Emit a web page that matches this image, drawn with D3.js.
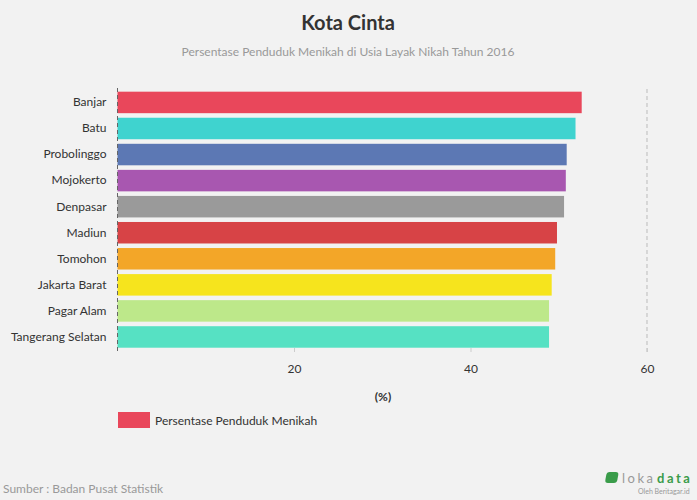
<!DOCTYPE html>
<html><head><meta charset="utf-8">
<script src="https://cdn.jsdelivr.net/npm/d3@7"></script>
<style>
body{margin:0;background:#f2f2f2;font-family:Lato,"Open Sans",sans-serif;}
svg{display:block;}
</style></head><body>
<svg id="c" width="697" height="500"></svg>
<script>
const categories = ["Banjar","Batu","Probolinggo","Mojokerto","Denpasar","Madiun","Tomohon","Jakarta Barat","Pagar Alam","Tangerang Selatan"];
const values = [52.6, 51.9, 50.9, 50.8, 50.6, 49.8, 49.6, 49.2, 48.9, 48.9];
const colors = ["#e9475b","#3fd3cf","#5c78b4","#a857b0","#9a9a9a","#d74346","#f3a628","#f6e41d","#bde88a","#56e1c3"];
const tickValues = [20, 40, 60];
const seriesName = "Persentase Penduduk Menikah";

const svg = d3.select("#c");
svg.append("rect").attr("width",697).attr("height",500).attr("fill","#f2f2f2");

const x = d3.scaleLinear().domain([0,60]).range([117.5,647]);
const y = d3.scaleBand().domain(categories).range([89.4,350]).paddingInner(0.175).paddingOuter(0.0875);

svg.append("text").attr("x",348).attr("y",30).attr("text-anchor","middle")
  .attr("font-size",20).attr("font-weight",700).attr("fill","#333").text("Kota Cinta");
svg.append("text").attr("x",348).attr("y",56).attr("text-anchor","middle")
  .attr("font-size",12).attr("fill","#999").text("Persentase Penduduk Menikah di Usia Layak Nikah Tahun 2016");

// gridline at 60
svg.append("line").attr("x1",x(60)).attr("x2",x(60)).attr("y1",89).attr("y2",352)
  .attr("stroke","#bbb").attr("stroke-dasharray","4,3");

// bars
svg.selectAll("rect.bar").data(categories).enter().append("rect").attr("class","bar")
  .attr("x",x(0)).attr("y",d=>y(d)).attr("height",y.bandwidth())
  .attr("width",(d,i)=>x(values[i])-x(0)).attr("fill",(d,i)=>colors[i]);

// left axis dashed
svg.append("line").attr("x1",x(0)).attr("x2",x(0)).attr("y1",88).attr("y2",352)
  .attr("stroke","#666").attr("stroke-dasharray","4,3");

// y labels
const yAxis = svg.append("g").attr("transform",`translate(${x(0)},0)`)
  .call(d3.axisLeft(y).tickSize(0).tickPadding(11));
yAxis.select(".domain").remove();
yAxis.selectAll("text").attr("font-size",12).attr("fill","#333").attr("font-family","Lato");

// x axis
const xAxis = svg.append("g").attr("transform","translate(0,352)")
  .call(d3.axisBottom(x).tickValues(tickValues).tickSize(-4).tickPadding(12));
xAxis.select(".domain").remove();
xAxis.selectAll("line").attr("stroke","#ccc");
xAxis.selectAll("text").attr("font-size",12).attr("fill","#333").attr("font-family","Lato");

svg.append("text").attr("x",383).attr("y",401).attr("text-anchor","middle")
  .attr("font-size",12).attr("font-weight",700).attr("fill","#333").text("(%)");

// legend
svg.append("rect").attr("x",118).attr("y",412).attr("width",32).attr("height",16).attr("fill",colors[0]);
svg.append("text").attr("x",155).attr("y",425).attr("font-size",12).attr("fill","#333").text(seriesName);

svg.append("text").attr("x",3).attr("y",493).attr("font-size",12).attr("fill","#999").text("Sumber : Badan Pusat Statistik");

// logo
const lg = svg.append("g");
lg.append("rect").attr("x",606).attr("y",472).attr("width",12).attr("height",11).attr("rx",3)
  .attr("fill","#3a9c4a").attr("transform","skewX(-10) translate(84,0)");
lg.append("text").attr("x",622).attr("y",483).attr("font-size",13).attr("letter-spacing",2.5)
  .attr("fill","#999").text("loka");
lg.append("text").attr("x",657).attr("y",483).attr("font-size",13).attr("letter-spacing",2.5)
  .attr("font-weight",700).attr("fill","#3a9c4a").text("data");
lg.append("text").attr("x",638).attr("y",494).attr("font-size",7).attr("fill","#999").text("Oleh Beritagar.id");
</script>
</body></html>
